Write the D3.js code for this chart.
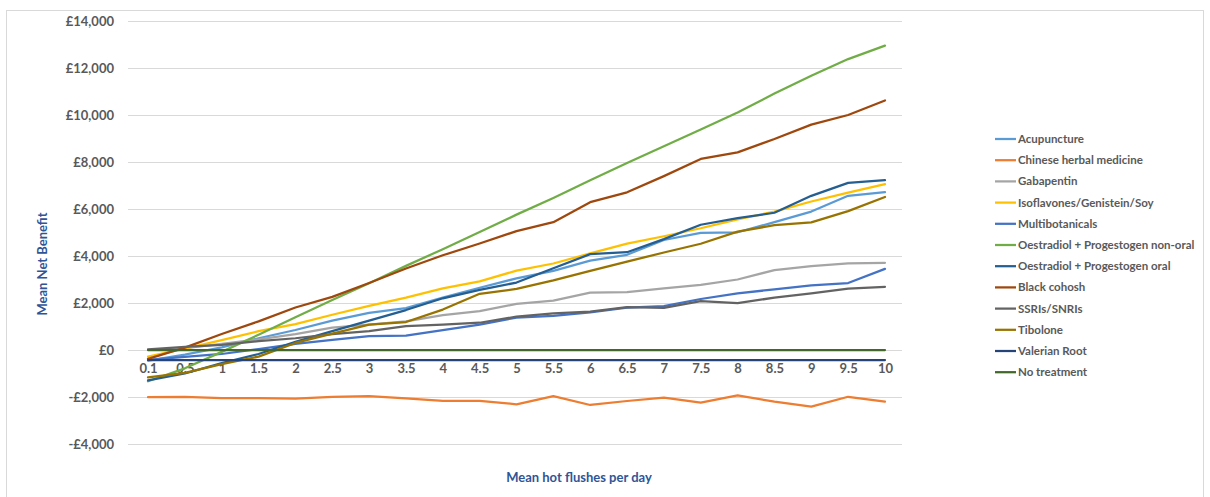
<!DOCTYPE html>
<html>
<head>
<meta charset="utf-8">
<script src="https://cdn.jsdelivr.net/npm/d3@7"></script>
<style>
  html, body { margin: 0; padding: 0; background: #fff; }
  svg { display: block; }
  text { font-family: Lato, "Open Sans", sans-serif; }
</style>
</head>
<body>
<svg id="chart" width="1210" height="497"></svg>
<script>
const categories = ["0.1","0.5","1","1.5","2","2.5","3","3.5","4","4.5","5","5.5","6","6.5","7","7.5","8","8.5","9","9.5","10"];
const yTicks = [-4000, -2000, 0, 2000, 4000, 6000, 8000, 10000, 12000, 14000];

const acupuncture     = [-450, -200, 110, 500, 850, 1250, 1580, 1780, 2230, 2650, 3050, 3370, 3800, 4050, 4680, 4980, 5010, 5440, 5890, 6560, 6720];
const chineseHerbal   = [-2010, -1990, -2050, -2050, -2070, -1990, -1960, -2060, -2170, -2160, -2310, -1960, -2340, -2170, -2030, -2240, -1930, -2200, -2410, -1990, -2200];
const gabapentin      = [0, 80, 260, 450, 680, 950, 1080, 1220, 1480, 1650, 1960, 2100, 2440, 2460, 2620, 2770, 3000, 3400, 3570, 3690, 3710];
const isoflavones     = [-280, 60, 420, 800, 1100, 1500, 1880, 2230, 2620, 2920, 3380, 3680, 4110, 4530, 4840, 5180, 5560, 5890, 6320, 6700, 7060];
const multibotanicals = [-420, -290, -170, 40, 260, 430, 590, 610, 850, 1080, 1380, 1450, 1600, 1800, 1870, 2170, 2410, 2580, 2750, 2850, 3450];
const oestNonOral     = [-1330, -780, -80, 650, 1390, 2130, 2840, 3580, 4290, 5020, 5760, 6470, 7220, 7960, 8670, 9380, 10110, 10910, 11670, 12380, 12950];
const oestOral        = [-1290, -1000, -560, -170, 350, 800, 1250, 1700, 2200, 2560, 2870, 3480, 4080, 4160, 4720, 5330, 5610, 5840, 6560, 7110, 7230];
const blackCohosh     = [-380, 100, 680, 1220, 1810, 2260, 2850, 3470, 4030, 4530, 5060, 5440, 6290, 6710, 7400, 8130, 8410, 8980, 9590, 10000, 10620];
const ssris           = [30, 130, 220, 380, 500, 680, 800, 1020, 1080, 1160, 1420, 1560, 1630, 1820, 1790, 2080, 1990, 2230, 2410, 2610, 2690];
const tibolone        = [-1160, -970, -600, -280, 300, 700, 1080, 1190, 1720, 2390, 2600, 2960, 3370, 3760, 4150, 4520, 5040, 5310, 5430, 5910, 6510];
const valerianRoot    = [-430, -430, -430, -430, -430, -430, -430, -430, -430, -430, -430, -430, -430, -430, -430, -430, -430, -430, -430, -430, -430];
const noTreatment     = [0, 0, 0, 0, 0, 0, 0, 0, 0, 0, 0, 0, 0, 0, 0, 0, 0, 0, 0, 0, 0];

const seriesNames = ["Acupuncture","Chinese herbal medicine","Gabapentin","Isoflavones/Genistein/Soy","Multibotanicals","Oestradiol + Progestogen non-oral","Oestradiol + Progestogen oral","Black cohosh","SSRIs/SNRIs","Tibolone","Valerian Root","No treatment"];
const seriesValues = [acupuncture, chineseHerbal, gabapentin, isoflavones, multibotanicals, oestNonOral, oestOral, blackCohosh, ssris, tibolone, valerianRoot, noTreatment];
const seriesColors = ["#5B9BD5","#ED7D31","#A5A5A5","#FFC000","#4472C4","#70AD47","#255E91","#9E480E","#636363","#997300","#264478","#43682B"];

const series = seriesNames.map((name, i) => ({ name, values: seriesValues[i], color: seriesColors[i] }));

const svg = d3.select("#chart");

// outer chart border
svg.append("rect")
  .attr("x", 6.5).attr("y", 10.5)
  .attr("width", 1197).attr("height", 520)
  .attr("fill", "none").attr("stroke", "#d9d9d9").attr("stroke-width", 1);

const plotLeft = 128, plotRight = 902;
const x = d3.scalePoint().domain(categories).range([129.6, 903.4]).padding(0.5);
const y = d3.scaleLinear().domain([-4000, 14000]).range([444, 21]);

// gridlines
svg.append("g").selectAll("line").data(yTicks).join("line")
  .attr("x1", plotLeft).attr("x2", plotRight)
  .attr("y1", d => Math.round(y(d)) + 0.5).attr("y2", d => Math.round(y(d)) + 0.5)
  .attr("stroke", "#d9d9d9").attr("stroke-width", 1);

// y axis labels
const fmt = d => (d < 0 ? "-£" : "£") + d3.format(",")(Math.abs(d));
const yAxis = d3.axisLeft(y).tickValues(yTicks).tickFormat(fmt).tickSize(0).tickPadding(0);
const yg = svg.append("g").attr("transform", `translate(114,0)`).call(yAxis);
yg.select(".domain").remove();
yg.selectAll("text")
  .attr("fill", "#595959").style("font-size", "13px").style("font-weight", "bold")
  .style("font-family", "Lato, sans-serif");

// x axis labels (below zero line)
const xAxis = d3.axisBottom(x).tickSize(0).tickPadding(0);
const xg = svg.append("g").attr("transform", `translate(0,${y(0)})`).call(xAxis);
xg.select(".domain").remove();
xg.selectAll("text")
  .attr("y", 14)
  .attr("fill", "#595959").style("font-size", "13px").style("font-weight", "bold")
  .style("font-family", "Lato, sans-serif");

// lines
const line = d3.line().x((d, i) => x(categories[i])).y(d => y(d));
svg.append("g").selectAll("path").data(series).join("path")
  .attr("d", d => line(d.values))
  .attr("fill", "none")
  .attr("stroke", d => d.color)
  .attr("stroke-width", 2.25)
  .attr("stroke-linejoin", "round")
  .attr("stroke-linecap", "round");

// axis titles
svg.append("text")
  .attr("transform", "translate(47,264) rotate(-90)")
  .attr("text-anchor", "middle")
  .attr("fill", "#2F5597").style("font-size", "13px").style("font-weight", "bold")
  .text("Mean Net Benefit");

svg.append("text")
  .attr("x", 579).attr("y", 482)
  .attr("text-anchor", "middle")
  .attr("fill", "#2F5597").style("font-size", "13px").style("font-weight", "bold")
  .text("Mean hot flushes per day");

// legend
const legend = svg.append("g").selectAll("g").data(series).join("g")
  .attr("transform", (d, i) => `translate(995,${139 + i * 21.2})`);
legend.append("line")
  .attr("x1", 0).attr("x2", 21).attr("y1", 0).attr("y2", 0)
  .attr("stroke", d => d.color).attr("stroke-width", 2.25);
legend.append("text")
  .attr("x", 23).attr("y", 0).attr("dy", "0.35em")
  .attr("fill", "#595959").style("font-size", "11.5px").style("font-weight", "bold")
  .text(d => d.name);
</script>
</body>
</html>
